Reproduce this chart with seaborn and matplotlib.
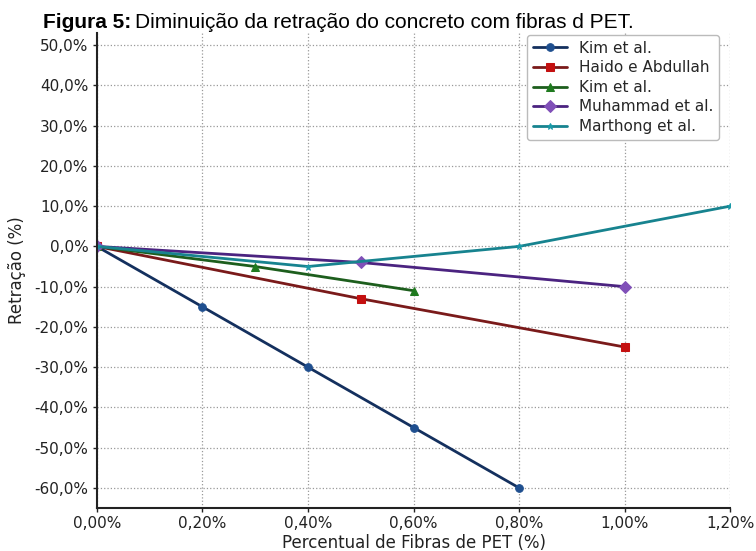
import matplotlib
matplotlib.use("Agg")
import matplotlib.pyplot as plt
import seaborn as sns
from matplotlib.ticker import FuncFormatter, MultipleLocator

# dados (x em % de fibras, y em % de retração)
kim1_x = [0.0, 0.2, 0.4, 0.6, 0.8]
kim1_y = [0, -15, -30, -45, -60]

haido_x = [0.0, 0.5, 1.0]
haido_y = [0, -13, -25]

kim2_x = [0.0, 0.3, 0.6]
kim2_y = [0, -5, -11]

muhammad_x = [0.0, 0.5, 1.0]
muhammad_y = [0, -4, -10]

marthong_x = [0.0, 0.4, 0.8, 1.2]
marthong_y = [0, -5, 0, 10]

sns.set_style("white")
plt.rcParams["font.family"] = ["DejaVu Sans"]

fig = plt.figure(figsize=(7.56, 5.51), dpi=100)
ax = fig.add_axes([0.128, 0.078, 0.838, 0.862])

series = [
    (kim1_x, kim1_y, "Kim et al.", "#14305e", "#1f4f8f", "o", 5.5),
    (haido_x, haido_y, "Haido e Abdullah", "#7a1a1a", "#c41010", "s", 6),
    (kim2_x, kim2_y, "Kim et al.", "#1d5e1d", "#1f7a1f", "^", 6),
    (muhammad_x, muhammad_y, "Muhammad et al.", "#4b2380", "#8050b8", "D", 6),
    (marthong_x, marthong_y, "Marthong et al.", "#17838f", "#1a9aa8", "*", 5),
]

for xs, ys, lab, lc, mc, mk, ms in series:
    sns.lineplot(x=xs, y=ys, ax=ax, label=lab, color=lc, marker=mk,
                 markersize=ms, markerfacecolor=mc, markeredgecolor=mc,
                 linewidth=2, sort=False)

ax.set_xlim(0, 1.2)
ax.set_ylim(-65, 53)
ax.xaxis.set_major_locator(MultipleLocator(0.2))
ax.yaxis.set_major_locator(MultipleLocator(10))
ax.xaxis.set_major_formatter(FuncFormatter(lambda v, p: f"{v:.2f}%".replace(".", ",")))
ax.yaxis.set_major_formatter(FuncFormatter(lambda v, p: f"{v:.1f}%".replace(".", ",")))

ax.grid(True, linestyle=":", color="#999999", linewidth=0.9)
for s in ["top", "right"]:
    ax.spines[s].set_visible(False)
for s in ["left", "bottom"]:
    ax.spines[s].set_color("#222222")
    ax.spines[s].set_linewidth(1.5)
ax.tick_params(axis="both", direction="out", length=3, width=1, pad=3,
               labelsize=11, colors="#222222", bottom=True, left=True)

ax.set_xlabel("Percentual de Fibras de PET (%)", fontsize=12, color="#222222", labelpad=2)
ax.set_ylabel("Retração (%)", fontsize=12, color="#222222", labelpad=6)

ax.legend(loc="upper right", fontsize=11, frameon=True, fancybox=True,
          edgecolor="#bbbbbb", framealpha=1, handlelength=2.2,
          borderpad=0.4, labelspacing=0.3, borderaxespad=0.1,
          bbox_to_anchor=(0.985, 1.0))

# título com parte em negrito
ty = 1 - 28 / 551
t1 = fig.text(0.057, ty, "Figura 5:", fontsize=15, fontweight="bold",
              family="Liberation Sans", va="baseline", color="black")
fig.canvas.draw()
bb = t1.get_window_extent()
x2 = fig.transFigure.inverted().transform((bb.x1 + 4, bb.y0))[0]
fig.text(x2, ty, "Diminuição da retração do concreto com fibras d PET.",
         fontsize=15, family="Liberation Sans", va="baseline", color="black")

fig.savefig("out.png", dpi=100)
